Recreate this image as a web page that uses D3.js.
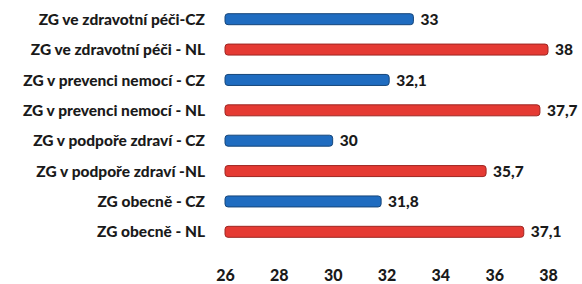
<!DOCTYPE html>
<html>
<head>
<meta charset="utf-8">
<script src="https://cdn.jsdelivr.net/npm/d3@7"></script>
<style>
  body { margin: 0; background: #fff; }
  text { font-family: Lato, "Open Sans", sans-serif; font-weight: 900; fill: #1a1a1a; }
  .axis path, .axis line { display: none; }
</style>
</head>
<body>
<div id="chart"></div>
<script>
// Categories top to bottom and their values
const categories = [
    "ZG ve zdravotní péči-CZ",
    "ZG ve zdravotní péči - NL",
    "ZG v prevenci nemocí - CZ",
    "ZG v prevenci nemocí - NL",
    "ZG v podpoře zdraví - CZ",
    "ZG v podpoře zdraví -NL",
    "ZG obecně - CZ",
    "ZG obecně - NL"
];
const values = [33, 38, 32.1, 37.7, 30, 35.7, 31.8, 37.1];
const countries = ["CZ", "NL", "CZ", "NL", "CZ", "NL", "CZ", "NL"];
const ticks = [26, 28, 30, 32, 34, 36, 38];

const colors = { CZ: "#1f6cc0", NL: "#e53a33" };
const outline = { CZ: "#16467a", NL: "#9e2622" };

let width = 582, height = 284;

let svg = d3.select("#chart")
    .append("svg")
        .attr("width", width)
        .attr("height", height);

// Scales
let x_scale = d3.scaleLinear()
    .domain([26, 38])
    .range([225, 548]);
let y_scale = d3.scalePoint()
    .domain(categories)
    .range([4, 247])
    .padding(0.5);

let bar_h = 11;
let data = categories.map((c, i) => ({ cat: c, v: values[i], country: countries[i] }));

// Bars
svg.selectAll(".bar")
    .data(data)
    .enter()
    .append("rect")
        .attr("class", "bar")
        .attr("x", x_scale(26))
        .attr("y", d => y_scale(d.cat) - bar_h / 2)
        .attr("width", d => x_scale(d.v) - x_scale(26))
        .attr("height", bar_h)
        .attr("rx", 3)
        .attr("fill", d => colors[d.country])
        .attr("stroke", d => outline[d.country])
        .attr("stroke-width", 1);

// Value labels
svg.selectAll(".val")
    .data(data)
    .enter()
    .append("text")
        .attr("class", "val")
        .attr("x", d => x_scale(d.v) + 7)
        .attr("y", d => y_scale(d.cat))
        .attr("dy", "0.36em")
        .style("font-size", "15.5px")
        .text(d => String(d.v).replace(".", ","));

// Category labels
svg.selectAll(".cat")
    .data(data)
    .enter()
    .append("text")
        .attr("class", "cat")
        .attr("x", 205)
        .attr("y", d => y_scale(d.cat))
        .attr("dy", "0.36em")
        .style("text-anchor", "end")
        .style("font-size", "15.5px")
        .text(d => d.cat);

// X axis
let x_axis = svg.append("g")
    .attr("class", "axis")
    .attr("transform", "translate(0,261)")
    .call(d3.axisBottom(x_scale).tickValues(ticks).tickSize(0).tickPadding(9));
x_axis.selectAll("text")
    .style("font-size", "16px")
    .style("font-family", "Lato, sans-serif")
    .style("font-weight", 900);
</script>
</body>
</html>
